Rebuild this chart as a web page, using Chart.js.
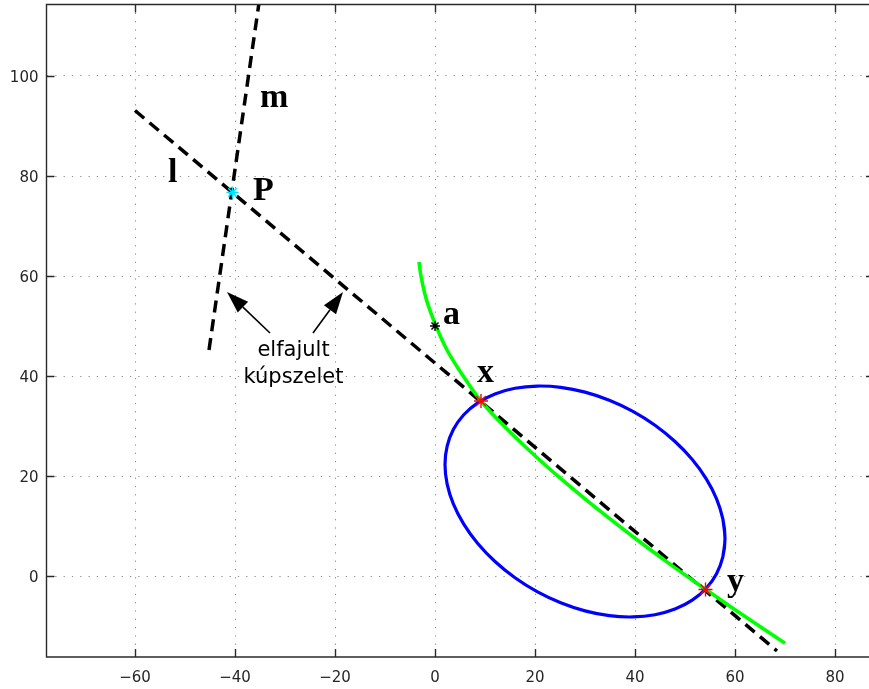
<!DOCTYPE html>
<html><head><meta charset="utf-8">
<script src="https://cdn.jsdelivr.net/npm/chart.js@4/dist/chart.umd.min.js"></script>
<style>html,body{margin:0;padding:0;background:#fff;overflow:hidden}canvas{display:block}</style>
</head><body>
<canvas id="c" width="869" height="689"></canvas>
<script>
// ---- data ----
const xTicks = [-60, -40, -20, 0, 20, 40, 60, 80];
const yTicks = [0, 20, 40, 60, 80, 100];

const lineLX = [-60.0, 68.4];
const lineLY = [93.1, -15.0];
const lineMX = [-45.2, -35.0];
const lineMY = [45.2, 116.0];

// ellipse outline, read around the loop (ends overlap so the loop closes smoothly)
const ellipseX = [57.57, 58.0, 57.57, 56.31, 54.25, 51.45, 48.0, 44.0, 39.58, 34.86, 30.0, 25.14, 20.42, 16.0, 12.0, 8.55, 5.75, 3.69, 2.43, 2.0, 2.43, 3.69, 5.75, 8.55, 12.0, 16.0, 20.42, 25.14, 30.0, 34.86, 39.58, 44.0, 48.0, 51.45, 54.25, 56.31, 57.57, 58.0, 57.57];
const ellipseY = [3.81, 7.5, 11.41, 15.43, 19.43, 23.3, 26.9, 30.15, 32.93, 35.16, 36.78, 37.74, 37.99, 37.55, 36.42, 34.64, 32.25, 29.33, 25.99, 22.3, 18.39, 14.37, 10.37, 6.5, 2.9, -0.35, -3.13, -5.36, -6.98, -7.94, -8.19, -7.75, -6.62, -4.84, -2.45, 0.47, 3.81, 7.5, 11.41];

const curveX = [-3.2, -2.8, -1.7, 0.2, 2.4, 5.5, 9.2, 14.0, 20.0, 25.0, 30.0, 35.0, 40.0, 47.0, 54.1, 60.0, 70.0];
const curveY = [62.8, 60.0, 55.2, 50.0, 45.2, 40.2, 35.0, 29.82, 24.06, 19.61, 15.41, 11.41, 7.56, 2.38, -2.66, -6.73, -13.43];

const pointNames = ['P', 'a', 'x', 'y'];
const pointX = [-40.5, 0.0, 9.2, 54.1];
const pointY = [76.7, 50.0, 35.0, -2.7];
const pointColors = ['#00e5ff', '#000000', '#ff0000', '#ff0000'];
const pointSizes = [6, 5, 7, 7];

const letterText = ['m', 'l', 'P', 'a', 'x', 'y'];
const letterX = [-35.0, -53.4, -36.4, 1.6, 8.4, 58.4];
const letterY = [93.8, 78.8, 75.2, 50.4, 38.8, -2.9];

const noteLines = ['elfajult', 'kúpszelet'];
const noteX = -28.3;
const noteY = [44.0, 38.6];
const arrowTail = [[-33.0, 48.6], [-24.4, 48.6]];
const arrowTip = [[-41.6, 56.8], [-18.4, 56.8]];

// ---- helpers ----
const zip = (xs, ys) => xs.map((v, i) => ({x: v, y: ys[i]}));
const fmt = v => (v < 0 ? '\u2212' + Math.abs(v) : String(v));

const decor = {
  id: 'decor',
  afterDatasetsDraw(chart) {
    const ctx = chart.ctx, xs = chart.scales.x, ys = chart.scales.y;
    const X = v => xs.getPixelForValue(v), Y = v => ys.getPixelForValue(v);
    ctx.save();
    ctx.fillStyle = '#000';
    ctx.textAlign = 'left';
    ctx.textBaseline = 'alphabetic';
    ctx.font = 'bold 34px "Liberation Serif"';
    letterText.forEach((t, i) => ctx.fillText(t, X(letterX[i]), Y(letterY[i])));
    ctx.font = '21px "DejaVu Sans"';
    ctx.textAlign = 'center';
    noteLines.forEach((t, i) => ctx.fillText(t, X(noteX), Y(noteY[i])));
    ctx.strokeStyle = '#000';
    ctx.lineWidth = 1.6;
    arrowTail.forEach((tl, i) => {
      const x1 = X(tl[0]), y1 = Y(tl[1]), x2 = X(arrowTip[i][0]), y2 = Y(arrowTip[i][1]);
      const a = Math.atan2(y2 - y1, x2 - x1), hl = 22, hw = 7.5;
      const bx = x2 - hl * Math.cos(a), by = y2 - hl * Math.sin(a);
      ctx.beginPath(); ctx.moveTo(x1, y1); ctx.lineTo(bx, by); ctx.stroke();
      ctx.beginPath();
      ctx.moveTo(x2, y2);
      ctx.lineTo(bx + hw * Math.sin(a), by - hw * Math.cos(a));
      ctx.lineTo(bx - hw * Math.sin(a), by + hw * Math.cos(a));
      ctx.closePath(); ctx.fill();
    });
    ctx.restore();
  },
  afterDraw(chart) {
    const ctx = chart.ctx, a = chart.chartArea, xs = chart.scales.x, ys = chart.scales.y;
    const right = a.right + 5; // the right frame edge lies just outside the picture
    ctx.save();
    ctx.strokeStyle = '#2a2a2a';
    ctx.lineWidth = 1.4;
    ctx.beginPath();
    ctx.moveTo(right, a.top); ctx.lineTo(a.left, a.top); ctx.lineTo(a.left, a.bottom); ctx.lineTo(right, a.bottom);
    ctx.stroke();
    const tl = 8;
    ctx.beginPath();
    xTicks.forEach(v => {
      const p = Math.round(xs.getPixelForValue(v)) + 0.5;
      ctx.moveTo(p, a.bottom); ctx.lineTo(p, a.bottom - tl);
      ctx.moveTo(p, a.top); ctx.lineTo(p, a.top + tl);
    });
    yTicks.forEach(v => {
      const p = Math.round(ys.getPixelForValue(v)) + 0.5;
      ctx.moveTo(a.left, p); ctx.lineTo(a.left + tl, p);
      ctx.moveTo(right, p); ctx.lineTo(right - tl, p);
    });
    ctx.stroke();
    // tick labels
    ctx.fillStyle = '#262626';
    ctx.font = '15px "DejaVu Sans"';
    ctx.textBaseline = 'alphabetic';
    ctx.textAlign = 'center';
    xTicks.forEach(v => ctx.fillText(fmt(v), xs.getPixelForValue(v), a.bottom + 25));
    ctx.textAlign = 'right';
    yTicks.forEach(v => ctx.fillText(fmt(v), a.left - 8, ys.getPixelForValue(v) + 5.5));
    ctx.restore();
  }
};

new Chart(document.getElementById('c'), {
  type: 'scatter',
  data: {
    datasets: [
      {label: 'points', data: zip(pointX, pointY), showLine: false, pointStyle: 'star', pointRadius: pointSizes,
       pointBorderWidth: 1.4, pointBorderColor: pointColors, pointBackgroundColor: pointColors, order: 0},
      {label: 'curve', data: zip(curveX, curveY), showLine: true, borderColor: '#00ff00', borderWidth: 3.6,
       pointRadius: 0, tension: 0.4, fill: false, order: 1},
      {label: 'ellipse', data: zip(ellipseX, ellipseY), showLine: true, borderColor: '#0000ff', borderWidth: 3.2,
       pointRadius: 0, tension: 0.4, fill: false, order: 2},
      {label: 'l', data: zip(lineLX, lineLY), showLine: true, borderColor: '#000', borderWidth: 3.5,
       borderDash: [12, 7], pointRadius: 0, fill: false, order: 3},
      {label: 'm', data: zip(lineMX, lineMY), showLine: true, borderColor: '#000', borderWidth: 3.5,
       borderDash: [12, 7], pointRadius: 0, fill: false, order: 3}
    ]
  },
  options: {
    responsive: false, animation: false, devicePixelRatio: 1,
    layout: {autoPadding: false, padding: {left: 0, top: 4.5, right: 0, bottom: 0}},
    plugins: {legend: {display: false}, tooltip: {enabled: false}},
    events: [],
    scales: {
      x: {
        type: 'linear', min: -77.7, max: 86.8,
        afterBuildTicks: s => { s.ticks = xTicks.map(v => ({value: v})); },
        afterFit: s => { s.height = 32; },
        grid: {drawTicks: false, color: '#8a8a8a', lineWidth: 1},
        border: {display: false, dash: [1.2, 7.1]},
        ticks: {display: false}
      },
      y: {
        type: 'linear', min: -16.2, max: 114.3,
        afterBuildTicks: s => { s.ticks = yTicks.map(v => ({value: v})); },
        afterFit: s => { s.width = 46.5; },
        grid: {drawTicks: false, color: '#8a8a8a', lineWidth: 1},
        border: {display: false, dash: [1.2, 7.1]},
        ticks: {display: false}
      }
    }
  },
  plugins: [decor]
});
</script>
</body></html>
